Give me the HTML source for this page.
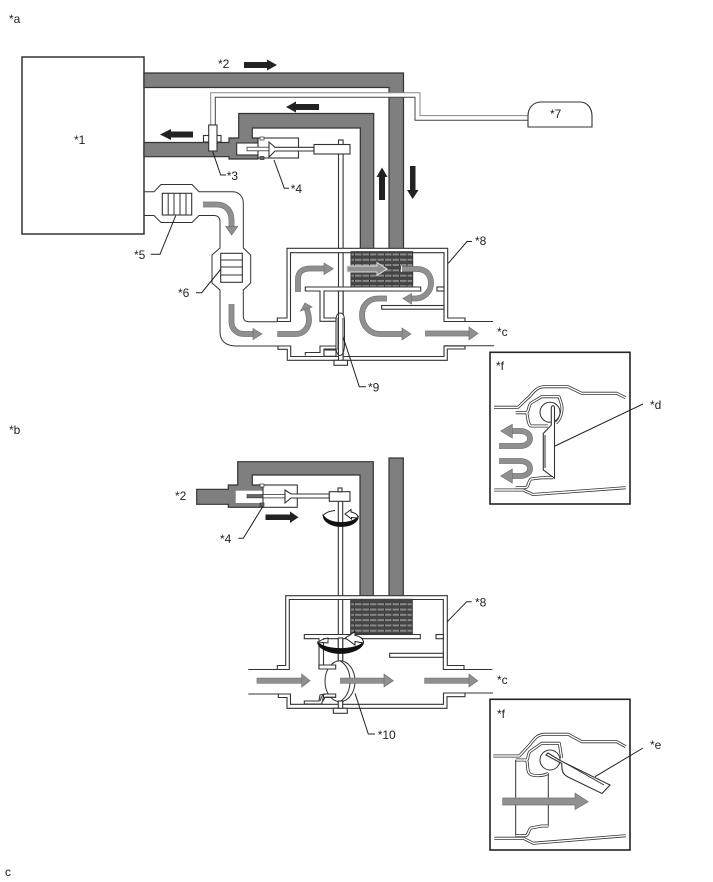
<!DOCTYPE html>
<html><head><meta charset="utf-8"><style>
html,body{margin:0;padding:0;background:#fff}
svg{display:block}
text{font-family:"Liberation Sans",sans-serif;font-size:12px;fill:#222}
.p{fill:#7f7f7f;stroke:#333;stroke-width:1.2}
.w{fill:#fff;stroke:#333;stroke-width:1.1}
.l{fill:none;stroke:#333;stroke-width:1}
.t{fill:none;stroke:#222;stroke-width:1}
.o{fill:none;stroke:#707070;stroke-width:5.8}
.g{fill:none;stroke:#909090;stroke-width:4.6}
.h{fill:#909090;stroke:#707070;stroke-width:.7}
.k{fill:#222;stroke:none}
.d1{fill:none;stroke:#333;stroke-width:3;stroke-linejoin:round}
.d2{fill:none;stroke:#fff;stroke-width:1.4;stroke-linejoin:round}
</style></head><body>
<svg xmlns="http://www.w3.org/2000/svg" width="713" height="882" viewBox="0 0 713 882">
<defs>
<pattern id="b" x="351" y="251.5" width="7.5" height="5.3" patternUnits="userSpaceOnUse">
<rect width="7.5" height="5.3" fill="#444"/>
<rect y="2" width="7.5" height="1.9" fill="#8a8a8a"/>
<rect x="3" y="2" width="1" height="1.9" fill="#333"/>
</pattern>
</defs>
<!-- FIGURE A -->
<rect x="22" y="57" width="122" height="177" fill="#fff" stroke="#333" stroke-width="1.5"/>
<path class="p" d="M144,73H403.5V252H389V87.5H144z"/>
<path class="p" d="M144,142.5H229V138H238.7V113.5H373.7V252H360.3V128H252.3V138H258V159H229V156.7H144z"/>
<rect class="w" x="236.7" y="143" width="22" height="12" stroke="none"/>
<rect class="w" x="258" y="138" width="40.5" height="20"/>
<rect x="260" y="137" width="4" height="3" fill="#fff" stroke="#333" stroke-width=".7"/>
<rect x="260" y="156.5" width="4" height="3" fill="#666" stroke="#333" stroke-width=".7"/>
<rect x="247" y="147.2" width="22" height="3.6" fill="#fff" stroke="#333" stroke-width=".8"/>
<path class="w" d="M269,142L275,147.3H314V151H275L269,157z"/>
<rect class="w" x="338.5" y="140" width="4.6" height="220" />
<rect class="w" x="314" y="144.5" width="36" height="9.5"/>
<!-- tube -->
<path d="M213,126V95H417.5V118H529" fill="none" stroke="#fff" stroke-width="4"/>
<path d="M210.7,126V92.8H420V115.6H529" fill="none" stroke="#888" stroke-width="1"/>
<path d="M215.3,126V97.2H415V120.2H529" fill="none" stroke="#444" stroke-width="1"/>
<rect class="w" x="203.5" y="135.5" width="17.5" height="6.5"/>
<rect class="w" x="208.7" y="125" width="8.3" height="26"/>
<path class="w" d="M528,127V116C528,107 534,102 541,102H580C587,102 592,108 592,116V127z"/>
<!-- catalyst pipes -->
<path class="l" d="M144,191.7H154L161,184.5H192L199,191.7H233C239,191.7 243.3,197 243.3,203V248L250.7,255V283L243.3,290V316C243.3,320 245,321.7 249,321.7H277"/>
<path class="l" d="M144,215.5H154L161,222.5H192L199,215.5H214C218,215.5 220,218 220,222V248L212,255V283L220,290V332C220,341 226,346 236,346H278"/>
<rect class="w" x="162.3" y="193.3" width="29.4" height="21.7" stroke="#555"/>
<path class="l" d="M168.2,193.3V215M174,193.3V215M180,193.3V215M186,193.3V215"/>
<rect class="w" x="220.7" y="253.3" width="21.6" height="29" stroke="#555"/>
<path class="l" d="M220.7,260H242.3M220.7,267H242.3M220.7,275H242.3"/>
<!-- housing -->
<path class="w" d="M277.3,321.5V318H287V248.3H447.7V318H465V321.5H444V252.7H290.5V321.5z"/>
<path class="l" d="M444,321.5H493"/>
<path class="w" d="M278,346V349.3H287.3V360.3H447.3V349H465V346H444V356.5H290.7V346z"/>
<path class="l" d="M444,345.8H494"/>
<rect x="351" y="251.7" width="61.7" height="35.6" fill="url(#b)" stroke="#333"/>
<path class="w" d="M305.3,287H420.7V291H324V318H336V321.3H320V291H305.3z"/>
<rect class="w" x="437" y="287" width="7" height="4"/>
<rect class="w" x="381.7" y="305.5" width="62.3" height="3.7"/>
<path class="w" d="M305.3,355.5V352.5H320V346H336V349H324V355.5"/>
<rect class="w" x="324" y="350" width="12" height="6.3" stroke-width=".8"/>
<rect class="w" x="338.5" y="291" width="4.6" height="70" stroke-width=".9"/>
<path d="M336,320C336,315 338,313 340,313C343,313 344.5,316 344.5,321V345C344.5,352 342,355.5 340,355.5C338,355.5 336,352 336,348z" fill="#fff" stroke="#333"/>
<path d="M336,320C338,316 339,316 339,320V350C339,353 337,350 336,348z" fill="#999" stroke="none"/>
<path d="M338.5,313V358M343,318V358" class="l" stroke-width=".8"/>
<rect class="w" x="334" y="360.3" width="13.5" height="5"/>
<!-- gray arrows A -->
<path class="o" d="M203,204.5H217C226,204.5 231.5,211 231.5,220V227"/><path class="g" d="M203,204.5H217C226,204.5 231.5,211 231.5,220V227"/>
<path class="h" d="M225.7,226.5H237.7L231.7,235z"/>
<path class="o" d="M231.5,304V322C231.5,329 237,334 244,334H254"/><path class="g" d="M231.5,304V322C231.5,329 237,334 244,334H254"/>
<path class="h" d="M253,328.5L262,334L253,339.5z"/>
<path class="o" d="M277.3,334H296C304,334 309,327 309,320C309,316 308,313 307,309"/><path class="g" d="M277.3,334H296C304,334 309,327 309,320C309,316 308,313 307,309"/>
<path class="h" d="M300.5,311L305,303L312,307z"/>
<path class="o" d="M298,292V279C298,272 303,268.5 310,268.5H325"/><path class="g" d="M298,292V279C298,272 303,268.5 310,268.5H325"/>
<path class="h" d="M324,263L333.3,268.7L324,274.5z"/>
<path d="M347,266H377V262.5L387,269L377,275.5V272H347z" fill="#909090" stroke="#ddd" stroke-width="1"/>
<path class="o" d="M401,269H417C426,269 431,275 431,283C431,292 424,298 416,298.5H410"/><path class="g" d="M401,269H417C426,269 431,275 431,283C431,292 424,298 416,298.5H410"/>
<path d="M401.5,266V272" stroke="#eee" stroke-width="1"/>
<path class="h" d="M411.5,293.5L403,298.5L411.5,304z"/>
<path class="o" d="M387,298.5H378C368,298.5 362,306 362,315C362,326 370,334 380,334H403"/><path class="g" d="M387,298.5H378C368,298.5 362,306 362,315C362,326 370,334 380,334H403"/>
<path class="h" d="M402,328L411,334L402,340z"/>
<path class="o" d="M425,333.5H470" /><path class="g" d="M425,333.5H470"/>
<path class="h" d="M469,327L478,333.5L469,340z"/>
<!-- black arrows -->
<path class="k" d="M244,62H267V59.5L277,65L267,70.5V68H244z"/>
<path class="k" d="M319,104H296V101.5L286,107L296,112.5V110H319z"/>
<path class="k" d="M193,131.5H171V129L160,134.5L171,140V137.5H193z"/>
<path class="k" d="M379,200V177H376.5L382,167.5L387.5,177H385V200z"/>
<path class="k" d="M410,166V190H407L412.7,199L418.5,190H415.5V166z"/>
<!-- leaders -->
<path class="t" d="M212.7,151.7L220.7,175H226M274,160L284.3,188.3H289M175.7,215.7L160,254.3H150.7M221,269L201.7,292.7H196M448.3,263.3L467,241.5H472M343,336.7L359.3,386.7H366"/>
<!-- inset F top -->
<rect x="490" y="352.3" width="140" height="151.7" fill="#fff" stroke="#222" stroke-width="1.6"/>
<path class="d1" d="M494,407.3H518L530,396C535,390 538,386.7 545,386.7H568L581.7,393.3H616.7L625.7,397.7"/>
<path class="d2" d="M494,407.3H518L530,396C535,390 538,386.7 545,386.7H568L581.7,393.3H616.7L625.7,397.7"/>
<path class="d1" d="M515.7,412.7H526C529,412.7 528,406 531,403L541.7,396.7H559L561.7,405C563,412 560,420 556,423M526.7,412.7C528,418 528,425 531,426H548"/>
<path class="d2" d="M515.7,412.7H526C529,412.7 528,406 531,403L541.7,396.7H559L561.7,405C563,412 560,420 556,423M526.7,412.7C528,418 528,425 531,426H548"/>
<circle cx="550" cy="412.3" r="10" fill="#fff" stroke="#333"/>
<path class="w" d="M551.3,407.5V425L543.3,433.5V470L554.5,478.3V407.5C554,405 552,405 551.3,407.5z"/>
<path class="l" d="M545,435V468"/>
<path class="d1" d="M515.7,487.7H525C529,487.7 528,481 531,479L541.7,477.7H553"/>
<path class="d2" d="M515.7,487.7H525C529,487.7 528,481 531,479L541.7,477.7H553"/>
<path class="d1" d="M494.3,490H523L533,494.5L625.7,487.7"/>
<path class="d2" d="M494.3,490H523L533,494.5L625.7,487.7"/>
<path class="o" d="M499,446H520C526,446 530,443 530,438.5C530,434 526,431 520,431H511"/><path class="g" d="M499,446H520C526,446 530,443 530,438.5C530,434 526,431 520,431H511"/>
<path class="h" d="M512.3,424.3L500.7,431L512.3,438z"/>
<path class="o" d="M499,461H520C526,461 530,464 530,468.5C530,473 526,476 520,476H511"/><path class="g" d="M499,461H520C526,461 530,464 530,468.5C530,473 526,476 520,476H511"/>
<path class="h" d="M512.3,469L500.7,476L512.3,483z"/>
<path class="t" d="M555,446L643,404"/>
<!-- FIGURE B -->
<path class="p" d="M196.7,489.3H228.3V485H237.7V461.7H373.3V600H360V475H252.3V485H263V507.3H228.3V504.3H196.7z"/>
<rect class="p" x="389" y="458" width="14.3" height="142" stroke="#666"/>
<rect x="235.7" y="490.7" width="28" height="12.3" fill="#fff"/>
<rect class="w" x="263" y="485" width="34.3" height="22.3"/>
<rect x="260" y="484" width="4" height="3" fill="#fff" stroke="#333" stroke-width=".7"/>
<rect x="260" y="503" width="4" height="3" fill="#666" stroke="#333" stroke-width=".7"/>
<rect x="247" y="494.5" width="16" height="3.4" fill="#666" stroke="#333" stroke-width=".6"/>
<rect x="263" y="494.5" width="22" height="3.4" fill="#fff" stroke="#333" stroke-width=".8"/>
<path class="w" d="M285,490L291,494H329.3V498H291L285,503z"/>
<rect class="w" x="338.3" y="501" width="4.4" height="208" />
<rect class="w" x="329.3" y="491.7" width="20.7" height="9.6"/>
<rect class="w" x="338" y="488" width="4" height="3.7" stroke-width=".8"/>
<path class="k" d="M265.5,514.5H290V511.5L298.5,517.3L290,523V520H265.5z"/>
<!-- rotation top -->
<path d="M323,515C323,522 332,526.5 341,526.5C350,526.5 358,523 358.5,516C356,520 349,522.5 341,522.5C333,522.5 326,520 323,515z" fill="#111" stroke="#111" stroke-width=".8"/>
<path d="M323,516C325,512 331,511 335,510.5" fill="none" stroke="#222" stroke-width="1"/>
<path d="M345,514L351,509.5V512C356,513 358,515 358,518L351.5,517.5V519z" fill="#fff" stroke="#222" stroke-width="1"/>
<!-- housing B -->
<path class="w" d="M277.3,669.5V665.5H285.7V595.7H447.3V665.5H464V669.5H443.3V599.5H289.3V669.5z"/>
<path class="l" d="M248.3,669.5H277.3M443.3,669.5H492.3"/>
<path class="w" d="M278.3,694V697.5H287V708.3H447V696.7H465V693H443.5V704.3H290.5V694z"/>
<path class="l" d="M248.3,694H279M444,693H493"/>
<rect x="350.7" y="599.3" width="61.6" height="35" fill="url(#b)" stroke="#333"/>
<path class="w" d="M304.3,634.5H420.3V638.7H323.5V665H336V669H319V638.7H304.3z"/>
<rect class="w" x="436" y="634.5" width="7.3" height="4.2"/>
<rect class="w" x="389.7" y="653.3" width="53.6" height="4"/>
<path class="w" d="M304.3,704V701H319L320,695C321,694 330,694 335.7,694V697.3H323.3L321.7,704z"/>
<rect class="w" x="338.3" y="638" width="4.4" height="23" stroke-width=".9"/>
<ellipse cx="340" cy="681.2" rx="15" ry="20.5" fill="#fff" stroke="#333"/>
<path class="l" d="M340,660.7C347,665 350,672 350,681C350,690 347,697 340,701.7"/>
<path class="w" d="M335.7,665H319V669H335.7z" stroke="none"/>
<path class="l" d="M319,665H336M319,669H336"/>
<path class="w" d="M323.5,697.3H335.7V694H323.5z" stroke="none"/>
<path class="l" d="M335.7,694H326C322,694 321,698 320,701M335.7,697.3H325L323,701"/>
<rect class="w" x="338.3" y="701" width="4.4" height="8" stroke-width=".9"/>
<rect class="w" x="333.3" y="708.3" width="14" height="5"/>
<!-- rotation bottom -->
<path d="M317.7,642C318,649 330,653.5 340.5,653.5C351,653.5 363,649 363.5,642C360,646 351,648.5 340.5,648.5C330,648.5 321,646 317.7,642z" fill="#111" stroke="#111" stroke-width=".8"/>
<path d="M317.7,643C319,641 323,639 328,638V643L323,642.5z" fill="#fff" stroke="#222" stroke-width=".9"/>
<path d="M345.3,638L355,631.7V635.5C360,636 363.5,639 363.5,643L355,641.5V645z" fill="#fff" stroke="#222" stroke-width="1"/>
<!-- gray arrows B -->
<path class="o" d="M256.7,680.7H302"/><path class="g" d="M256.7,680.7H302"/><path class="h" d="M301.7,674L310,680.7L301.7,687z"/>
<path class="o" d="M340,680.7H385"/><path class="g" d="M340,680.7H385"/><path class="h" d="M384,674L393.3,680.7L384,687z"/>
<path class="o" d="M424.3,680.7H470"/><path class="g" d="M424.3,680.7H470"/><path class="h" d="M469,674L477.7,680.7L469,687z"/>
<!-- leaders B -->
<path class="t" d="M262.7,506.7L243.3,538.3H238.3M447.3,621.7L466.7,601.7H471.7M355,693.3L368.3,734H375"/>
<!-- inset F bottom -->
<rect x="490" y="699.3" width="140" height="150.7" fill="#fff" stroke="#222" stroke-width="1.6"/>
<path class="d1" d="M493.3,756H519.3L530,744.5C535,738 538,734.3 545,734.3H568.3L581.7,741.7H616.7L625.7,746.7"/>
<path class="d2" d="M493.3,756H519.3L530,744.5C535,738 538,734.3 545,734.3H568.3L581.7,741.7H616.7L625.7,746.7"/>
<path class="d1" d="M515.7,760H526C529,760 527,755 530,751.5L541.7,743.3H559.3L561.7,758M526.7,760C528,765 527,772 530,774C534,776.5 544,776 548.3,773.3"/>
<path class="d2" d="M515.7,760H526C529,760 527,755 530,751.5L541.7,743.3H559.3L561.7,758M526.7,760C528,765 527,772 530,774C534,776.5 544,776 548.3,773.3"/>
<circle cx="550" cy="760" r="10" fill="#fff" stroke="#333"/>
<path class="l" d="M515.7,760V836.7M548.3,773.3V826.7"/>
<path class="d1" d="M515.7,835.7H525C529,835.7 528,830 531,828L541.7,826H548.3"/>
<path class="d2" d="M515.7,835.7H525C529,835.7 528,830 531,828L541.7,826H548.3"/>
<path class="w" d="M546,755L548,753L560,760.5L610,785L602,793.5L568,777C564,775 562,772 562,768L561.7,763.5z"/>
<path class="l" d="M565,763L604,785"/>
<path class="d1" d="M494.3,838.3H523.3L533.3,843.3L625.7,835.7"/>
<path class="d2" d="M494.3,838.3H523.3L533.3,843.3L625.7,835.7"/>
<path class="h" d="M502.7,798H575V793L588.3,801.7L575,809.5V805H502.7z"/>
<path class="t" d="M595,776.7L643,748"/>
<!-- labels -->
<text x="9" y="23">*a</text>
<text x="74" y="144">*1</text>
<text x="218" y="68">*2</text>
<text x="226.7" y="180">*3</text>
<text x="290.7" y="193">*4</text>
<text x="134" y="259">*5</text>
<text x="178" y="297">*6</text>
<text x="550" y="118">*7</text>
<text x="475" y="245">*8</text>
<text x="497" y="336">*c</text>
<text x="368" y="391.5">*9</text>
<text x="496" y="370">*f</text>
<text x="650" y="409">*d</text>
<text x="9" y="434">*b</text>
<text x="175" y="500">*2</text>
<text x="220" y="543">*4</text>
<text x="475" y="606.5">*8</text>
<text x="497" y="684">*c</text>
<text x="377.7" y="739">*10</text>
<text x="497" y="718">*f</text>
<text x="650" y="749">*e</text>
<text x="5" y="876">c</text>
</svg>
</body></html>
